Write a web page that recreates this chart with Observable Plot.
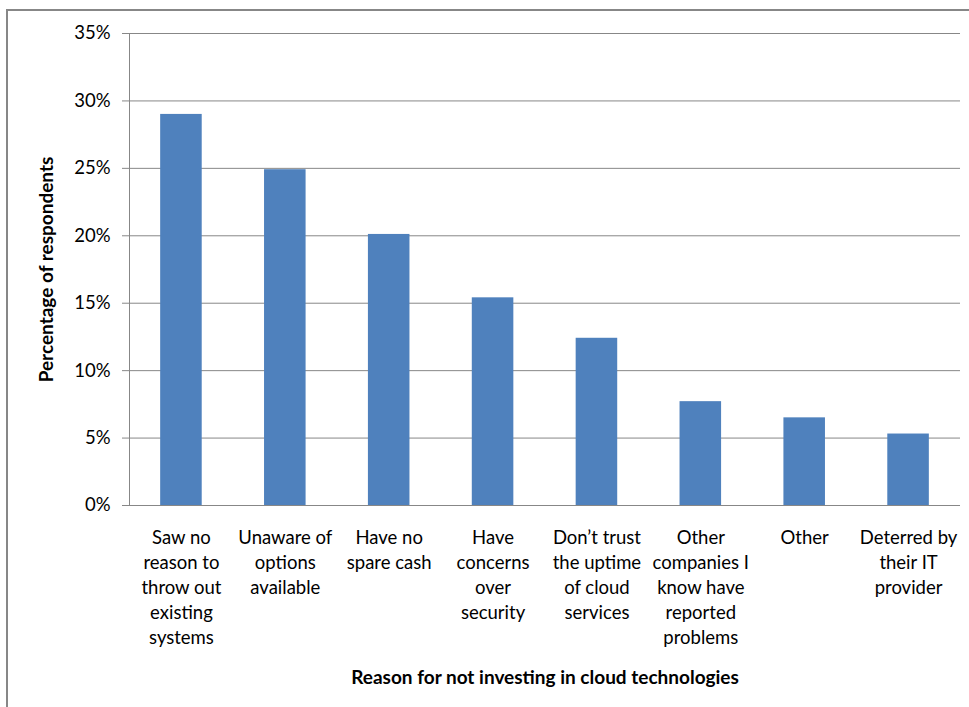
<!DOCTYPE html>
<html>
<head>
<meta charset="utf-8">
<script src="https://cdn.jsdelivr.net/npm/d3@7"></script>
<script src="https://cdn.jsdelivr.net/npm/@observablehq/plot@0.6"></script>
<style>
  html, body { margin: 0; padding: 0; background: #fff; overflow: hidden; }
  #wrap { position: relative; width: 969px; height: 707px; }
  #border { position: absolute; left: 6px; top: 9px; width: 1000px; height: 800px;
            border: 2px solid #878787; box-sizing: border-box; }
  #chart { position: absolute; left: 0; top: 0; }
</style>
</head>
<body>
<div id="wrap"><div id="border"></div><div id="chart"></div></div>
<script>
// Reasons given for not investing in cloud technologies (% of respondents)
const categories = [
  "Saw no\nreason to\nthrow out\nexisting\nsystems",
  "Unaware of\noptions\navailable",
  "Have no\nspare cash",
  "Have\nconcerns\nover\nsecurity",
  "Don\u2019t trust\nthe uptime\nof cloud\nservices",
  "Other\ncompanies I\nknow have\nreported\nproblems",
  "Other",
  "Deterred by\ntheir IT\nprovider"
];
const percentages = [29.0, 24.9, 20.1, 15.4, 12.4, 7.7, 6.5, 5.3];
const yTicks = [0, 5, 10, 15, 20, 25, 30, 35];
const xTitle = "Reason for not investing in cloud technologies";
const yTitle = "Percentage of respondents";

const data = categories.map((c, i) => ({category: c, value: percentages[i]}));

const font = "Lato, 'Open Sans', sans-serif";
const axisColor = "#878787";

const chart = Plot.plot({
  width: 969,
  height: 707,
  marginLeft: 129,
  marginRight: 9,
  marginTop: 33,
  marginBottom: 202,
  style: {fontFamily: font, background: "transparent", color: "#000"},
  x: {domain: categories, paddingInner: 0.6, paddingOuter: 0.3, round: false, label: null},
  y: {domain: [0, 35], label: null},
  marks: [
    Plot.gridY(yTicks.filter(d => d > 0), {stroke: axisColor, strokeOpacity: 1, strokeWidth: 1}),
    Plot.barY(data, {x: "category", y: "value", fill: "#4F81BD"}),
    Plot.ruleY([0], {stroke: axisColor, strokeWidth: 1}),
    Plot.frame({anchor: "left", stroke: axisColor, strokeWidth: 1}),
    Plot.axisY({
      ticks: yTicks, tickFormat: d => d + "%", tickSize: 7, tickPadding: 12,
      stroke: axisColor, fontSize: 18.5, fill: "#000", label: null
    }),
    Plot.axisX({
      tickSize: 0, tickPadding: 21, fontSize: 18.5, lineHeight: 25 / 18.5,
      fill: "#000", label: null
    }),
    Plot.text([xTitle], {
      frameAnchor: "bottom", dy: 172, lineAnchor: "middle",
      fontSize: 19, fontWeight: "bold", fill: "#000"
    }),
    Plot.text([yTitle], {
      frameAnchor: "left", dx: -83, rotate: -90, lineAnchor: "middle", textAnchor: "middle",
      fontSize: 19, fontWeight: "bold", fill: "#000"
    })
  ]
});
document.getElementById("chart").appendChild(chart);
</script>
</body>
</html>
